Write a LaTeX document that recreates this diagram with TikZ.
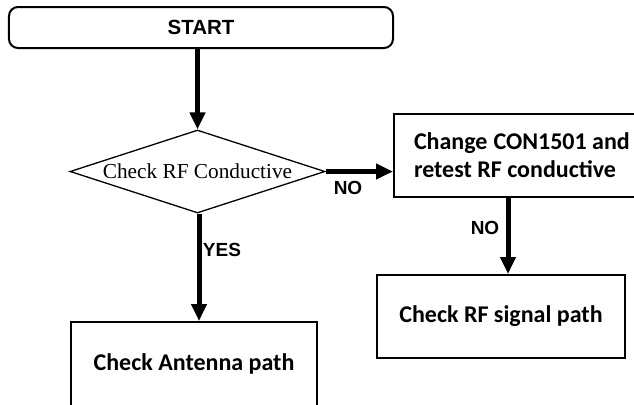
\documentclass[tikz,border=0pt]{standalone}
\usepackage{fontspec}
\setmainfont{Liberation Serif}
\newfontfamily\arialf{Liberation Sans}
\newfontfamily\calf{Carlito}
\usetikzlibrary{shapes.geometric,arrows.meta}
\tikzset{
  startbox/.style={draw, line width=2bp, rounded corners=9bp, minimum width=384bp, minimum height=41bp, inner sep=0pt, font=\arialf\bfseries\fontsize{20.5bp}{24bp}\selectfont},
  decbox/.style={draw, shape=diamond, aspect=3.07, line width=1.3bp, inner sep=0pt, minimum width=255bp, minimum height=83bp, font=\fontsize{21.3bp}{25bp}\selectfont},
  procbox/.style={draw, line width=2bp, inner sep=0pt, font=\calf\bfseries\fontsize{24bp}{29bp}\selectfont},
  flow/.style={line width=5bp, -{Triangle[width=15bp,length=17bp]}},
  lbl/.style={inner sep=0pt, font=\arialf\bfseries\fontsize{19bp}{22bp}\selectfont}
}
\begin{document}
\begin{tikzpicture}[x=1bp,y=-1bp]
\useasboundingbox (0,0) rectangle (634,404);
\node[startbox] (start) at (201,27.5) {START};
\node[decbox] (dec) at (197.5,171.5) {Check RF Conductive};
\node[procbox, anchor=west, minimum height=83bp, inner xsep=20bp, inner ysep=0pt, align=left] (chg) at (393,155.5) {Change\hspace{6bp}CON1501 and\\[-1bp]retest RF conductive};
\node[procbox, minimum width=248bp, minimum height=83bp] (sig) at (501,316.5) {Check RF signal path};
\node[procbox, minimum width=246bp, minimum height=84bp] (ant) at (194,364) {Check Antenna path};
\draw[flow] (start.south -| dec.north) -- (dec.north);
\draw[flow] (dec.east) -- (dec.east -| chg.west);
\draw[flow] ([xshift=115bp]chg.south west) -- ([xshift=115bp]chg.south west |- sig.north);
\draw[flow] ([xshift=1.5bp]dec.south) -- ([xshift=1.5bp]dec.south |- ant.north);
\node[lbl] (no1) at (348,188) {NO};
\node[lbl] (no2) at (485,228) {NO};
\node[lbl] (yes) at (222,250) {YES};
\end{tikzpicture}
\end{document}
